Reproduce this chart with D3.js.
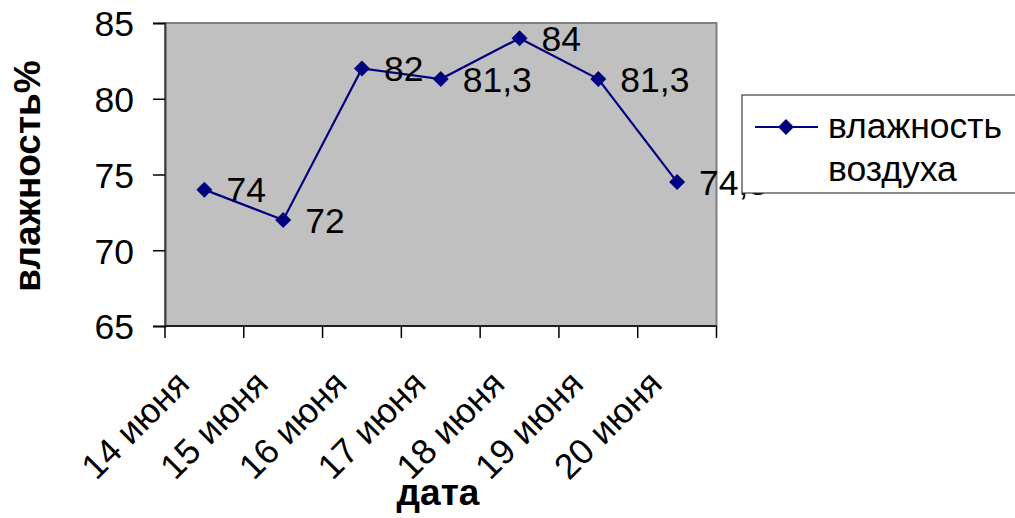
<!DOCTYPE html>
<html>
<head>
<meta charset="utf-8">
<script src="https://cdn.jsdelivr.net/npm/d3@7"></script>
<style>
  body { margin: 0; background: #fff; }
  svg text { font-family: "Liberation Sans", Arial, sans-serif; }
</style>
</head>
<body>
<div id="chart"></div>
<script>
// chart data
var dates = ["14 июня", "15 июня", "16 июня", "17 июня", "18 июня", "19 июня", "20 июня"];
var humidity = [74, 72, 82, 81.3, 84, 81.3, 74.5];
var yTicks = [65, 70, 75, 80, 85];
var seriesName = ["влажность", "воздуха"];

var width = 1015, height = 518;
var plot = {left: 165, top: 23, right: 716.5, bottom: 326};
var fontSize = "35.5px";
var titleSize = "37px";

var svg = d3.select("#chart")
    .append("svg")
    .attr("width", width)
    .attr("height", height);

var x = d3.scaleBand()
    .domain(dates)
    .range([plot.left, plot.right]);

var y = d3.scaleLinear()
    .domain([65, 85])
    .range([plot.bottom, plot.top]);

//Plot area background and frame
svg.append("rect")
    .attr("x", plot.left)
    .attr("y", plot.top)
    .attr("width", plot.right - plot.left)
    .attr("height", plot.bottom - plot.top)
    .attr("fill", "#c0c0c0")
    .attr("stroke", "#808080")
    .attr("stroke-width", 2);

//Y axis
var yAxis = svg.append("g")
    .attr("transform", "translate(" + plot.left + ",0)")
    .call(d3.axisLeft(y).tickValues(yTicks).tickSize(12).tickPadding(19));
yAxis.select(".domain").attr("stroke", "#404040").attr("stroke-width", 2);
yAxis.selectAll(".tick line").attr("stroke", "#000").attr("stroke-width", 1.5);
yAxis.selectAll(".tick text")
    .attr("font-size", fontSize)
    .attr("fill", "#000")
    .attr("dy", "0.36em");

//X axis, ticks sit between categories
var xAxis = svg.append("g")
    .attr("transform", "translate(0," + plot.bottom + ")");
xAxis.append("line")
    .attr("x1", plot.left)
    .attr("x2", plot.right)
    .attr("stroke", "#202020")
    .attr("stroke-width", 2);
xAxis.selectAll(".xtick")
    .data(dates.concat(["end"]))
    .enter()
    .append("line")
    .attr("x1", function (d, i) { return i < dates.length ? x(d) : plot.right; })
    .attr("x2", function (d, i) { return i < dates.length ? x(d) : plot.right; })
    .attr("y1", 0)
    .attr("y2", 12)
    .attr("stroke", "#000")
    .attr("stroke-width", 1.5);
xAxis.selectAll(".xlabel")
    .data(dates)
    .enter()
    .append("text")
    .attr("transform", function (d) {
        return "translate(" + (x(d) + x.bandwidth() / 2 - 13) + ",60) rotate(-45)";
    })
    .attr("text-anchor", "end")
    .attr("font-size", fontSize)
    .attr("fill", "#000")
    .text(function (d) { return d; });

//Series line and markers
var line = d3.line()
    .x(function (d, i) { return x(dates[i]) + x.bandwidth() / 2; })
    .y(function (d) { return y(d); });

svg.append("path")
    .datum(humidity)
    .attr("d", line)
    .attr("fill", "none")
    .attr("stroke", "#000080")
    .attr("stroke-width", 2.2);

var diamond = "M0,-8L8,0L0,8L-8,0Z";
svg.selectAll(".marker")
    .data(humidity)
    .enter()
    .append("path")
    .attr("d", diamond)
    .attr("transform", function (d, i) {
        return "translate(" + (x(dates[i]) + x.bandwidth() / 2) + "," + y(d) + ")";
    })
    .attr("fill", "#000080");

//Data labels
svg.selectAll(".dlabel")
    .data(humidity)
    .enter()
    .append("text")
    .attr("x", function (d, i) { return x(dates[i]) + x.bandwidth() / 2 + 22; })
    .attr("y", function (d) { return y(d); })
    .attr("dy", "0.36em")
    .attr("font-size", fontSize)
    .attr("fill", "#000")
    .text(function (d) { return String(d).replace(".", ","); });

//Axis titles
svg.append("text")
    .attr("x", 438)
    .attr("y", 505)
    .attr("text-anchor", "middle")
    .attr("font-size", titleSize)
    .attr("font-weight", "bold")
    .text("дата");

svg.append("text")
    .attr("transform", "translate(40,176) rotate(-90)")
    .attr("text-anchor", "middle")
    .attr("font-size", titleSize)
    .attr("font-weight", "bold")
    .text("влажность%");

//Legend, overlaps the last data label
var legend = svg.append("g")
    .attr("transform", "translate(742,95)");
legend.append("rect")
    .attr("width", 290)
    .attr("height", 98)
    .attr("fill", "#fff")
    .attr("stroke", "#404040")
    .attr("stroke-width", 1.2);
legend.append("line")
    .attr("x1", 13)
    .attr("x2", 76)
    .attr("y1", 32)
    .attr("y2", 32)
    .attr("stroke", "#000080")
    .attr("stroke-width", 2);
legend.append("path")
    .attr("d", diamond)
    .attr("transform", "translate(44,32)")
    .attr("fill", "#000080");
legend.selectAll(".ltext")
    .data(seriesName)
    .enter()
    .append("text")
    .attr("x", 86)
    .attr("y", function (d, i) { return 43 + i * 43; })
    .attr("font-size", fontSize)
    .attr("fill", "#000")
    .text(function (d) { return d; });
</script>
</body>
</html>
